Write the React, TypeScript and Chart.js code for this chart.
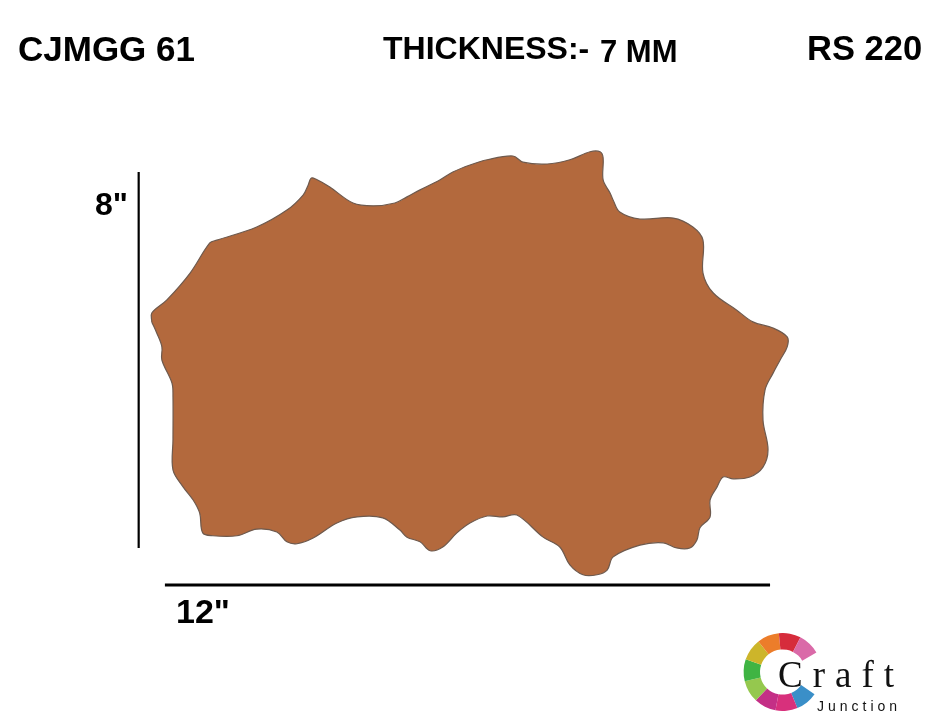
import React, { useEffect, useRef } from "react";
import { Chart, registerables } from "chart.js";

Chart.register(...registerables);

// Product outline, in inches (x across the 12" width, y up the 8" height)
const outlineX = [
  -0.26, -0.26, 0.04, 0.5, 0.89, 1.03, 1.82, 2.42, 2.74, 2.84, 2.9, 2.99, 3.27, 3.73, 4.13, 4.56, 4.8, 5.06, 5.45, 5.71,
  6.05, 6.39, 6.9, 7.1, 7.58, 8.03, 8.43, 8.63, 8.69, 8.69, 8.83, 8.89, 9.02, 9.42, 10.08, 10.47, 10.67, 10.67, 10.87, 11.34,
  11.66, 12.06, 12.34, 12.34, 12.2, 12.06, 11.9, 11.86, 11.96, 11.86, 11.6, 11.27, 11.07, 10.95, 10.81, 10.81, 10.61, 10.55, 10.41, 10.15,
  9.88, 9.42, 8.89, 8.77, 8.57, 8.29, 8.03, 7.83, 7.5, 6.98, 6.7, 6.39, 6.05, 5.79, 5.51, 5.26, 5.06, 4.8, 4.66, 4.32,
  3.81, 3.41, 2.94, 2.62, 2.42, 2.22, 1.82, 1.43, 0.95, 0.75, 0.69, 0.56, 0.36, 0.16, 0.16, 0.16, 0.14, -0.06, -0.06, -0.16,
  -0.26,
];
const outlineY = [
  4.81, 5.0, 5.28, 5.85, 6.49, 6.55, 6.83, 7.19, 7.51, 7.72, 7.87, 7.85, 7.68, 7.34, 7.28, 7.34, 7.47, 7.62, 7.83, 8.0,
  8.15, 8.26, 8.34, 8.21, 8.17, 8.26, 8.43, 8.43, 8.3, 7.83, 7.55, 7.4, 7.15, 7.0, 7.02, 6.83, 6.55, 5.85, 5.43, 5.06,
  4.81, 4.68, 4.49, 4.28, 4.0, 3.72, 3.36, 2.72, 2.09, 1.72, 1.51, 1.47, 1.51, 1.3, 1.02, 0.66, 0.43, 0.17, 0.0, 0.0,
  0.11, 0.06, -0.19, -0.47, -0.57, -0.57, -0.36, 0.02, 0.23, 0.7, 0.66, 0.68, 0.53, 0.32, 0.02, -0.06, 0.13, 0.23, 0.38, 0.64,
  0.66, 0.53, 0.21, 0.09, 0.13, 0.34, 0.4, 0.26, 0.26, 0.32, 0.74, 1.02, 1.3, 1.66, 2.3, 3.21, 3.51, 4.0, 4.28, 4.57,
  4.81,
];

// Dimension markers (inches)
const heightInches = 8;
const widthInches = 12;
const heightLabel = '8"';
const widthLabel = '12"';

// Header texts
const codeText = "CJMGG 61";
const thicknessLabel = "THICKNESS:-";
const thicknessValue = "7 MM";
const priceText = "RS 220";

// Logo
const logoColors = ["#3a8fc8", "#d8307c", "#c42f86", "#95c84e", "#3fb443", "#cdb52a", "#ec7d2a", "#d62c3c", "#da6aa8"];
const logoShares = [1, 1, 1, 1, 1, 1, 1, 1, 1];
const logoWord = "Craft";
const logoSub = "Junction";

const FILL = "#b3693d";

function App() {
  const mainRef = useRef<HTMLCanvasElement | null>(null);
  const logoRef = useRef<HTMLCanvasElement | null>(null);

  useEffect(() => {
    const outline = outlineX.map((x, i) => ({ x, y: outlineY[i] }));
    const main = new Chart(mainRef.current as HTMLCanvasElement, {
      type: "scatter",
      data: {
        datasets: [
          {
            data: outline,
            showLine: true,
            fill: "shape",
            backgroundColor: FILL,
            borderColor: "#6e5a4e",
            borderWidth: 1.2,
            pointRadius: 0,
            tension: 0.35,
          } as any,
          {
            data: [
              { x: -0.52, y: 0 },
              { x: -0.52, y: heightInches },
            ],
            showLine: true,
            borderColor: "#000",
            borderWidth: 2.2,
            pointRadius: 0,
            fill: false,
          },
          {
            data: [
              { x: 0, y: -0.79 },
              { x: widthInches, y: -0.79 },
            ],
            showLine: true,
            borderColor: "#000",
            borderWidth: 3,
            pointRadius: 0,
            fill: false,
          },
        ],
      },
      options: {
        animation: false,
        responsive: false,
        devicePixelRatio: 1,
        layout: { padding: 0 },
        plugins: { legend: { display: false }, tooltip: { enabled: false } },
        scales: {
          x: { type: "linear", display: false, min: -3.27, max: 15.37 },
          y: { type: "linear", display: false, min: -3.81, max: 11.66 },
        },
        elements: { line: { capBezierPoints: false } },
      },
    });

    const logo = new Chart(logoRef.current as HTMLCanvasElement, {
      type: "doughnut",
      data: {
        labels: logoColors.map((_, i) => String(i)),
        datasets: [
          {
            data: logoShares,
            backgroundColor: logoColors,
            borderWidth: 0,
          },
        ],
      },
      options: {
        animation: false,
        responsive: false,
        devicePixelRatio: 1,
        cutout: "58%",
        rotation: 125,
        circumference: 295,
        layout: { padding: 0 },
        plugins: { legend: { display: false }, tooltip: { enabled: false } },
      },
    });

    return () => {
      main.destroy();
      logo.destroy();
    };
  }, []);

  const bold = (size: number): React.CSSProperties => ({
    position: "absolute",
    fontFamily: "'Liberation Sans', Arial, sans-serif",
    fontWeight: 700,
    fontSize: size,
    lineHeight: 1,
    color: "#000",
    whiteSpace: "nowrap",
  });

  return (
    <div
      style={{
        position: "fixed",
        left: 0,
        top: 0,
        width: 940,
        height: 727,
        background: "#fff",
        overflow: "hidden",
      }}
    >
      <canvas ref={mainRef} width={940} height={727} style={{ position: "absolute", left: 0, top: 0 }} />
      <canvas ref={logoRef} width={78} height={78} style={{ position: "absolute", left: 741, top: 633 }} />

      <div style={{ ...bold(35), left: 18, top: 31 }}>{codeText}</div>
      <div style={{ ...bold(32), left: 383, top: 32 }}>{thicknessLabel}</div>
      <div style={{ ...bold(31), left: 600, top: 36 }}>{thicknessValue}</div>
      <div style={{ ...bold(34.5), left: 807, top: 31 }}>{priceText}</div>

      <div style={{ ...bold(32), left: 95, top: 188 }}>{heightLabel}</div>
      <div style={{ ...bold(34), left: 176, top: 594 }}>{widthLabel}</div>

      <div
        style={{
          position: "absolute",
          left: 778,
          top: 656,
          fontFamily: "'Liberation Serif', 'DejaVu Serif', serif",
          fontSize: 37,
          lineHeight: 1,
          letterSpacing: 10,
          color: "#111",
        }}
      >
        {logoWord}
      </div>
      <div
        style={{
          position: "absolute",
          left: 817,
          top: 699,
          fontFamily: "'Liberation Sans', Arial, sans-serif",
          fontSize: 14,
          lineHeight: 1,
          letterSpacing: 4,
          color: "#111",
        }}
      >
        {logoSub}
      </div>
    </div>
  );
}

export default App;
